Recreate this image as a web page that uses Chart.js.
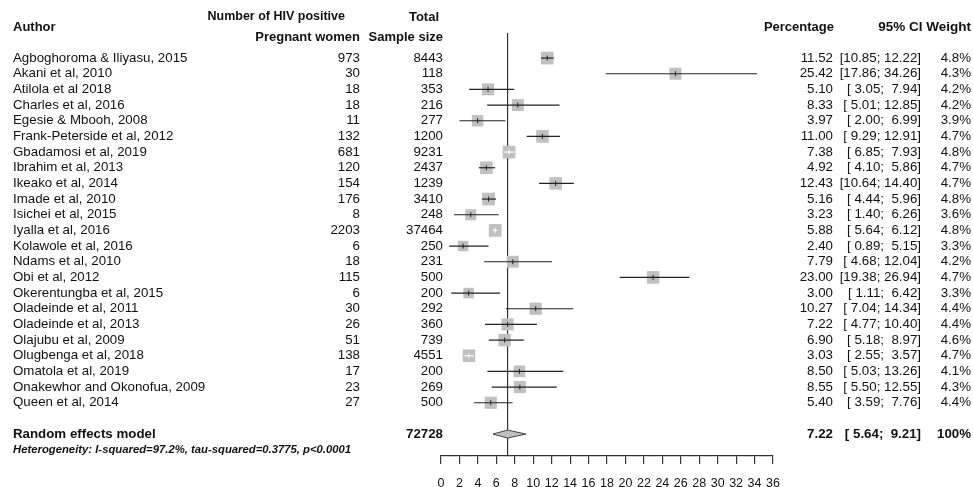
<!DOCTYPE html>
<html>
<head>
<meta charset="utf-8">
<script src="https://cdn.jsdelivr.net/npm/chart.js@4"></script>
<style>
html, body { margin: 0; padding: 0; background: #fff; }
canvas { display: block; }
</style>
</head>
<body>
<canvas id="forest" width="973" height="487"></canvas>
<script>
var authors = [
    "Agboghoroma & Iliyasu, 2015", "Akani et al, 2010", "Atilola et al 2018", "Charles et al, 2016",
    "Egesie & Mbooh, 2008", "Frank-Peterside et al, 2012", "Gbadamosi et al, 2019", "Ibrahim et al, 2013",
    "Ikeako et al, 2014", "Imade et al, 2010", "Isichei et al, 2015", "Iyalla et al, 2016",
    "Kolawole et al, 2016", "Ndams et al, 2010", "Obi et al, 2012", "Okerentungba et al, 2015",
    "Oladeinde et al, 2011", "Oladeinde et al, 2013", "Olajubu et al, 2009", "Olugbenga et al, 2018",
    "Omatola et al, 2019", "Onakewhor and Okonofua, 2009", "Queen et al, 2014"
];
var hivPositive = [973, 30, 18, 18, 11, 132, 681, 120, 154, 176, 8, 2203, 6, 18, 115, 6, 30, 26, 51, 138, 17, 23, 27];
var sampleSize = [8443, 118, 353, 216, 277, 1200, 9231, 2437, 1239, 3410, 248, 37464, 250, 231, 500, 200, 292, 360, 739, 4551, 200, 269, 500];
var percentage = [11.52, 25.42, 5.10, 8.33, 3.97, 11.00, 7.38, 4.92, 12.43, 5.16, 3.23, 5.88, 2.40, 7.79, 23.00, 3.00, 10.27, 7.22, 6.90, 3.03, 8.50, 8.55, 5.40];
var lowerCI = [10.85, 17.86, 3.05, 5.01, 2.00, 9.29, 6.85, 4.10, 10.64, 4.44, 1.40, 5.64, 0.89, 4.68, 19.38, 1.11, 7.04, 4.77, 5.18, 2.55, 5.03, 5.50, 3.59];
var upperCI = [12.22, 34.26, 7.94, 12.85, 6.99, 12.91, 7.93, 5.86, 14.40, 5.96, 6.26, 6.12, 5.15, 12.04, 26.94, 6.42, 14.34, 10.40, 8.97, 3.57, 13.26, 12.55, 7.76];
var weights = [4.8, 4.3, 4.2, 4.2, 3.9, 4.7, 4.8, 4.7, 4.7, 4.8, 3.6, 4.8, 3.3, 4.2, 4.7, 3.3, 4.4, 4.4, 4.6, 4.7, 4.1, 4.3, 4.4];

var pooledTotal = 72728;
var pooledEst = 7.22;
var pooledLower = 5.64;
var pooledUpper = 9.21;
var pooledWeight = "100%";
var heterogeneity = "Heterogeneity: I-squared=97.2%, tau-squared=0.3775, p<0.0001";

var xMin = 0, xMax = 36, xStep = 2;

// layout (pixels)
var plotLeft = 441, plotRight = 773, plotTop = 33, plotBottom = 456;
var pxPerUnit = (plotRight - plotLeft) / (xMax - xMin);
var pooledRow = authors.length + 1;
var hetRow = pooledRow + 1;
var FONT = '"Liberation Sans", Arial, sans-serif';

function squareSide(w) {
    return 5.8 * Math.sqrt(w);
}

// CI drawn white when it sits inside the square
function ciInside(i) {
    var half = squareSide(weights[i]) / 2;
    return (percentage[i] - lowerCI[i]) * pxPerUnit < half && (upperCI[i] - percentage[i]) * pxPerUnit < half;
}

var datasets = [];

// point estimate ticks
datasets.push({
    data: percentage.map(function(p, i) { return { x: p, y: i }; }),
    pointStyle: 'line',
    rotation: 90,
    pointRadius: 2.5,
    pointBorderWidth: 1,
    pointBorderColor: percentage.map(function(p, i) { return ciInside(i) ? '#ffffff' : '#222222'; }),
    showLine: false
});

// confidence interval lines
for (var i = 0; i < authors.length; i++) {
    datasets.push({
        data: [{ x: lowerCI[i], y: i }, { x: upperCI[i], y: i }],
        showLine: true,
        borderColor: ciInside(i) ? '#ffffff' : '#222222',
        borderWidth: 1.2,
        pointRadius: 0
    });
}

// weight squares
datasets.push({
    data: percentage.map(function(p, i) { return { x: p, y: i }; }),
    pointStyle: 'rect',
    pointRadius: weights.map(function(w) { return squareSide(w) / (2 * Math.SQRT1_2); }),
    pointBackgroundColor: '#c0c0c0',
    pointBorderWidth: 0,
    pointBorderColor: 'rgba(0,0,0,0)',
    showLine: false
});

// pooled diamond
var dh = 4 / ((plotBottom - plotTop) / 27);
datasets.push({
    data: [
        { x: pooledLower, y: pooledRow }, { x: pooledEst, y: pooledRow - dh },
        { x: pooledUpper, y: pooledRow }, { x: pooledEst, y: pooledRow + dh },
        { x: pooledLower, y: pooledRow }
    ],
    showLine: true,
    fill: 'shape',
    backgroundColor: '#c0c0c0',
    borderColor: '#444444',
    borderWidth: 1,
    pointRadius: 0,
    tension: 0
});

// reference line at pooled estimate
datasets.push({
    data: [{ x: pooledEst, y: -1.6 }, { x: pooledEst, y: 25.4 }],
    showLine: true,
    borderColor: '#333333',
    borderWidth: 1.2,
    pointRadius: 0
});

function pad5(v) {
    var s = v.toFixed(2);
    while (s.length < 5) s = ' ' + s;
    return s;
}

function ciText(l, u) {
    return '[' + pad5(l) + '; ' + pad5(u) + ']';
}

var tablePlugin = {
    id: 'forestTable',
    afterDraw: function(chart) {
        var ctx = chart.ctx;
        var ys = chart.scales.y;
        function put(t, x, y, align) {
            ctx.textAlign = align;
            ctx.fillText(t, x, y);
        }
        ctx.save();
        ctx.fillStyle = '#111111';
        ctx.textBaseline = 'middle';

        ctx.font = 'bold 13px ' + FONT;
        put('Author', 13, 27, 'left');
        put('Total', 439, 17, 'right');
        put('Pregnant women', 360, 37, 'right');
        put('Sample size', 443, 37, 'right');
        put('Percentage', 834, 27, 'right');
        ctx.font = 'bold 13.5px ' + FONT;
        put('95% CI Weight', 971, 27, 'right');
        ctx.font = 'bold 12.5px ' + FONT;
        put('Number of HIV positive', 345, 17, 'right');

        ctx.font = '13.3px ' + FONT;
        for (var i = 0; i < authors.length; i++) {
            var y = ys.getPixelForValue(i);
            put(authors[i], 13, y, 'left');
            put(String(hivPositive[i]), 360, y, 'right');
            put(String(sampleSize[i]), 443, y, 'right');
            put(percentage[i].toFixed(2), 833, y, 'right');
            put(ciText(lowerCI[i], upperCI[i]), 921, y, 'right');
            put(weights[i].toFixed(1) + '%', 971, y, 'right');
        }

        var py = ys.getPixelForValue(pooledRow);
        ctx.font = 'bold 13.3px ' + FONT;
        put('Random effects model', 13, py, 'left');
        put(String(pooledTotal), 443, py, 'right');
        put(pooledEst.toFixed(2), 833, py, 'right');
        put(ciText(pooledLower, pooledUpper), 921, py, 'right');
        put(pooledWeight, 971, py, 'right');

        ctx.font = 'italic bold 11.3px ' + FONT;
        put(heterogeneity, 13, ys.getPixelForValue(hetRow), 'left');
        ctx.restore();
    }
};

new Chart(document.getElementById('forest'), {
    type: 'scatter',
    data: { datasets: datasets },
    plugins: [tablePlugin],
    options: {
        responsive: false,
        animation: false,
        events: [],
        layout: {
            padding: { left: plotLeft, right: 973 - plotRight, top: plotTop, bottom: 0 }
        },
        plugins: {
            legend: { display: false },
            tooltip: { enabled: false }
        },
        elements: { line: { tension: 0 } },
        datasets: { scatter: { clip: false } },
        scales: {
            x: {
                type: 'linear',
                min: xMin,
                max: xMax,
                afterFit: function(scale) { scale.height = 487 - plotBottom; },
                border: { display: true, color: '#333333', width: 1.2 },
                grid: { drawOnChartArea: false, drawTicks: true, tickLength: 8, color: '#333333', lineWidth: 1.2 },
                ticks: {
                    stepSize: xStep,
                    autoSkip: false,
                    maxRotation: 0,
                    padding: 12,
                    color: '#111111',
                    font: { family: FONT, size: 12.5 }
                }
            },
            y: {
                type: 'linear',
                display: false,
                reverse: true,
                min: -1.6,
                max: 25.4
            }
        }
    }
});
</script>
</body>
</html>
